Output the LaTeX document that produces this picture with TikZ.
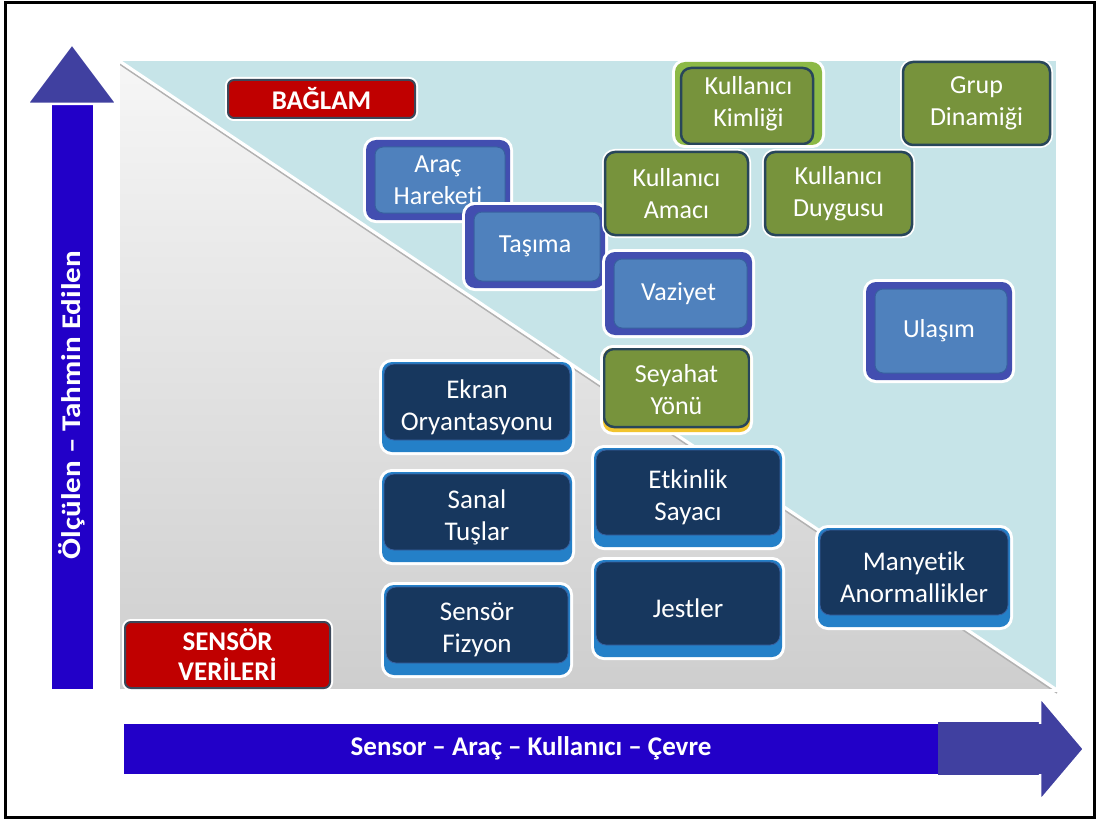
\documentclass[tikz,border=0pt]{standalone}
\usepackage{fontspec}
\usepackage{graphicx}
\setmainfont{Carlito}[Ligatures=NoCommon]
\definecolor{tealc}{RGB}{198,228,232}
\definecolor{grayT}{RGB}{246,246,246}
\definecolor{grayB}{RGB}{206,206,206}
\definecolor{arrowblue}{RGB}{34,0,200}
\definecolor{headc}{RGB}{64,64,160}
\definecolor{redc}{RGB}{192,0,0}
\definecolor{edgec}{RGB}{60,72,90}
\definecolor{greenc}{RGB}{119,147,60}
\definecolor{lgreenc}{RGB}{140,185,70}
\definecolor{gedge}{RGB}{40,70,90}
\definecolor{outerblue}{RGB}{66,78,176}
\definecolor{innerblue}{RGB}{79,129,189}
\definecolor{inedge}{RGB}{56,96,160}
\definecolor{navyc}{RGB}{23,55,94}
\definecolor{lipc}{RGB}{36,128,200}
\definecolor{yellowc}{RGB}{242,196,46}
\newcommand\bx[7]{\node[#6, minimum width={#4-#2}, minimum height={#5-#3}] (#1) at ({(#2+#4)/2},{(#3+#5)/2}) {#7};}
\tikzset{
  glow/.style={preaction={draw=white, line width=6pt}},
  lbl/.style={text=white, align=center, font=\fontsize{26}{32}\selectfont, inner sep=0pt},
  redbox/.style={lbl, glow, fill=redc, draw=edgec, line width=2pt, rounded corners=6pt, font=\bfseries\fontsize{27}{30}\selectfont},
  greenbox/.style={lbl, glow, fill=greenc, draw=gedge, line width=2.5pt, rounded corners=10pt},
  kimlikbox/.style={lbl, glow, fill=lgreenc, draw=none, rounded corners=10pt,
    path picture={\fill[greenc, draw=gedge, line width=2.5pt, rounded corners=10pt] ([xshift=6pt,yshift=-6pt]path picture bounding box.north west) rectangle ([xshift=-9pt,yshift=1pt]path picture bounding box.south east);}},
  yellowbox/.style={lbl, glow, fill=yellowc, draw=none, rounded corners=10pt,
    path picture={\fill[greenc, draw=gedge, line width=2.5pt, rounded corners=10pt] ([xshift=1pt,yshift=-1pt]path picture bounding box.north west) rectangle ([xshift=-1pt,yshift=5pt]path picture bounding box.south east);}},
  bluebox/.style={lbl, glow, fill=outerblue, draw=none, rounded corners=10pt,
    path picture={\fill[innerblue, draw=inedge, line width=1pt, rounded corners=8pt] ([xshift=9pt,yshift=-7pt]path picture bounding box.north west) rectangle ([xshift=-5pt,yshift=7pt]path picture bounding box.south east);}},
  navybox/.style={lbl, glow, fill=lipc, draw=none, rounded corners=10pt, font=\fontsize{27}{32}\selectfont,
    path picture={\fill[navyc, draw=inedge, line width=0.8pt, rounded corners=10pt] ([xshift=2pt,yshift=-2pt]path picture bounding box.north west) rectangle ([xshift=-2pt,yshift=12pt]path picture bounding box.south east);}},
  axislabel/.style={text=white, font=\bfseries\fontsize{27}{30}\selectfont, inner sep=0pt}
}
\begin{document}
\begin{tikzpicture}[x=1pt,y=-1pt]
\useasboundingbox (0,0) rectangle (1099,821);
\fill[white] (0,0) rectangle (1099,821);
\draw[line width=3pt] (5,3) rectangle (1094,817);
% panel
\shade[top color=grayT, bottom color=grayB] (118,60) rectangle (1057,690);
\fill[tealc] (118,60) -- (1057,60) -- (1057,690) -- cycle;
\draw[gray!60, line width=1.5pt] (118,63) -- (1057,693);
\draw[white, line width=3pt] (118,60) -- (1057,690);
\draw[white, line width=3pt] (118,60) rectangle (1057,690);
% vertical arrow
\draw[white, line width=3pt, fill=arrowblue] (50,100) rectangle (94,690);
\draw[white, line width=2.5pt, fill=headc] (72,44) -- (117,104) -- (27,104) -- cycle;
\node[axislabel, rotate=90] (vlabel) at (72,405) {\scalebox{1.15}[1]{Ölçülen – Tahmin Edilen}};
% horizontal arrow
\draw[white, line width=3pt, fill=arrowblue] (122,722) rectangle (1042,775);
\fill[headc] (938,722) rectangle (1042,775);
\draw[white, line width=2.5pt, fill=headc] (1040,697) -- (1084,749) -- (1040,801) -- cycle;
\fill[headc] (1030,723.5) rectangle (1042,773.5);
\node[axislabel] (hlabel) at (531,748) {Sensor – Araç – Kullanıcı – Çevre};
% boxes
\bx{baglam}{228}{80}{415}{118}{redbox}{BAĞLAM}
\bx{sensorv}{125}{622}{330}{688}{redbox}{SENSÖR\\VERİLERİ}
\bx{arac}{366}{140}{510}{220}{bluebox}{Araç\\Hareketi}
\bx{tasima}{465}{205}{605}{288}{bluebox}{Taşıma}
\bx{kimlik}{675}{62}{822}{145}{kimlikbox}{Kullanıcı\\Kimliği}
\bx{grup}{903}{62}{1050}{145}{greenbox}{Grup\\Dinamiği}
\bx{amac}{605}{152}{748}{235}{greenbox}{Kullanıcı\\Amacı}
\bx{duygu}{765}{152}{912}{235}{greenbox}{Kullanıcı\\Duygusu}
\bx{vaziyet}{605}{252}{752}{335}{bluebox}{Vaziyet}
\bx{ulasim}{866}{282}{1012}{380}{bluebox}{Ulaşım}
\bx{seyahat}{603}{348}{750}{432}{yellowbox}{Seyahat\\Yönü}
\bx{ekran}{382}{362}{572}{452}{navybox}{Ekran\\Oryantasyonu}
\bx{sanal}{382}{472}{572}{562}{navybox}{Sanal\\Tuşlar}
\bx{fizyon}{384}{585}{570}{675}{navybox}{Sensör\\Fizyon}
\bx{etkinlik}{594}{448}{782}{547}{navybox}{Etkinlik\\Sayacı}
\bx{jestler}{594}{560}{782}{657}{navybox}{Jestler}
\bx{manyetik}{818}{528}{1010}{627}{navybox}{Manyetik\\Anormallikler}
\end{tikzpicture}
\end{document}
